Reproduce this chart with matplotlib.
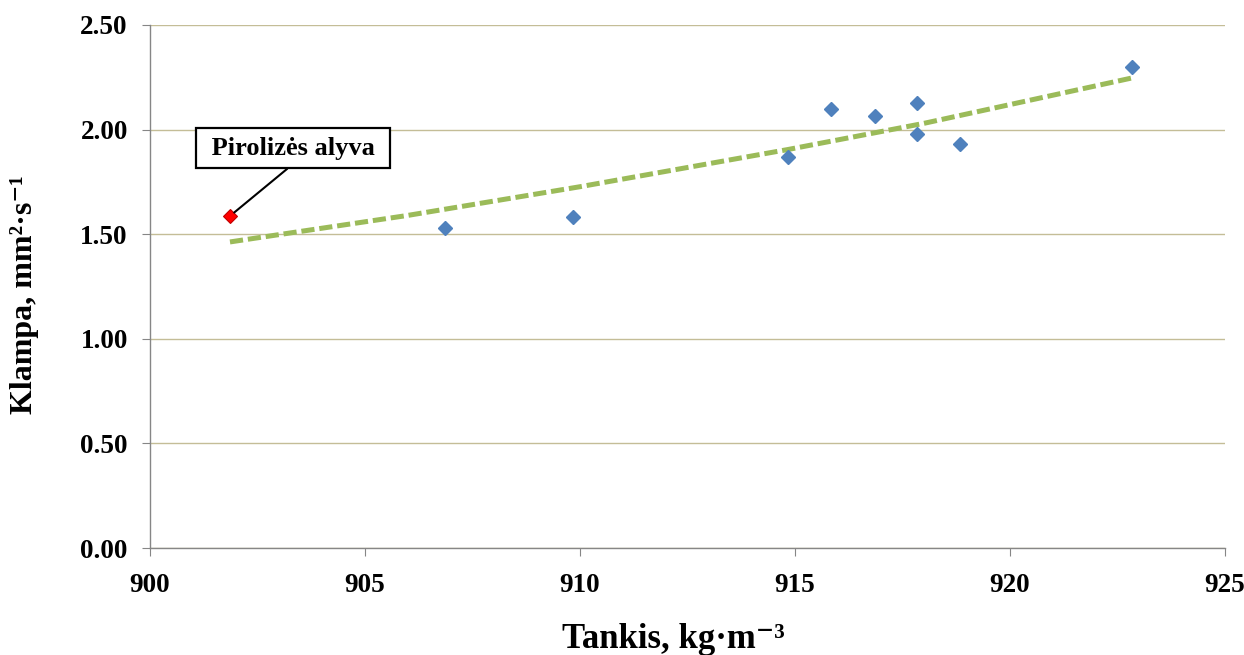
import matplotlib
matplotlib.use("Agg")
import matplotlib.pyplot as plt

plt.rcParams['font.family'] = ['Liberation Serif', 'DejaVu Serif']
plt.rcParams['font.weight'] = 'bold'
plt.rcParams['lines.scale_dashes'] = False

# Data
density = [906.86, 909.84, 914.84, 915.84, 916.86, 917.84, 917.84, 918.84, 922.84]
viscosity = [1.53, 1.58, 1.87, 2.10, 2.065, 2.127, 1.979, 1.93, 2.30]
pyro_density = [901.86]
pyro_viscosity = [1.587]
trend_x = [901.86, 906.0, 910.0, 914.84, 918.0, 922.84]
trend_y = [1.463, 1.59, 1.727, 1.905, 2.03, 2.247]
x_ticks = [900, 905, 910, 915, 920, 925]
y_ticks = [0.0, 0.5, 1.0, 1.5, 2.0, 2.5]
annotation = "Pirolizės alyva"

fig = plt.figure(figsize=(12.44, 6.55), dpi=100)
ax = fig.add_axes([150/1244, 1-548/655, (1225-150)/1244, (548-25)/655])

ax.plot(trend_x, trend_y, color='#9BBB59', lw=3.6, dashes=(9.5, 3.5),
        dash_capstyle='butt', zorder=2)
ax.plot(density, viscosity, linestyle='none', marker='D', ms=7.4,
        color='#4F81BD', mec='#4F81BD', zorder=3)
ax.plot(pyro_density, pyro_viscosity, linestyle='none', marker='D', ms=7.4,
        color='#FF0000', mec='#C00000', mew=0.8, zorder=4)

ax.annotate(" " + annotation + " ", xy=(pyro_density[0], pyro_viscosity[0]),
            xytext=(903.33, 1.912), textcoords='data',
            ha='center', va='center', fontsize=19, fontweight='bold',
            bbox=dict(boxstyle='square,pad=0.32', fc='white', ec='black', lw=1.6),
            arrowprops=dict(arrowstyle='-', color='black', lw=1.5,
                            shrinkA=0, shrinkB=4, relpos=(0.53, 0.0)),
            zorder=5)

ax.set_xlim(900, 925)
ax.set_ylim(0, 2.5)
ax.set_xticks(x_ticks)
ax.set_yticks(y_ticks)
ax.set_xticklabels([str(t) for t in x_ticks])
ax.set_yticklabels([f"{t:.2f}" for t in y_ticks])
ax.yaxis.grid(True, color='#C4BD97', lw=1.0)
ax.set_axisbelow(True)

for side in ['top', 'right']:
    ax.spines[side].set_visible(False)
for side in ['left', 'bottom']:
    ax.spines[side].set_color('#868686')
    ax.spines[side].set_linewidth(1.0)

ax.tick_params(axis='both', which='major', direction='out', length=6,
               color='#868686')
ax.tick_params(axis='y', pad=10, labelsize=19.5)
ax.tick_params(axis='x', pad=12, labelsize=19.5)
for lbl in ax.get_xticklabels() + ax.get_yticklabels():
    lbl.set_fontweight('bold')

ax.set_xlabel("Tankis, kg·m⁻³", fontsize=25, fontweight='bold')
ax.set_ylabel("Klampa, mm²·s⁻¹", fontsize=23, fontweight='bold')
ax.xaxis.set_label_coords((673-150)/1075, -(648-548)/523)
ax.xaxis.label.set_va('baseline')
ax.yaxis.set_label_coords(-(150-25)/1075, (548-295)/523)
ax.yaxis.label.set_va('center')

fig.savefig("out.png", dpi=100, facecolor='white')
